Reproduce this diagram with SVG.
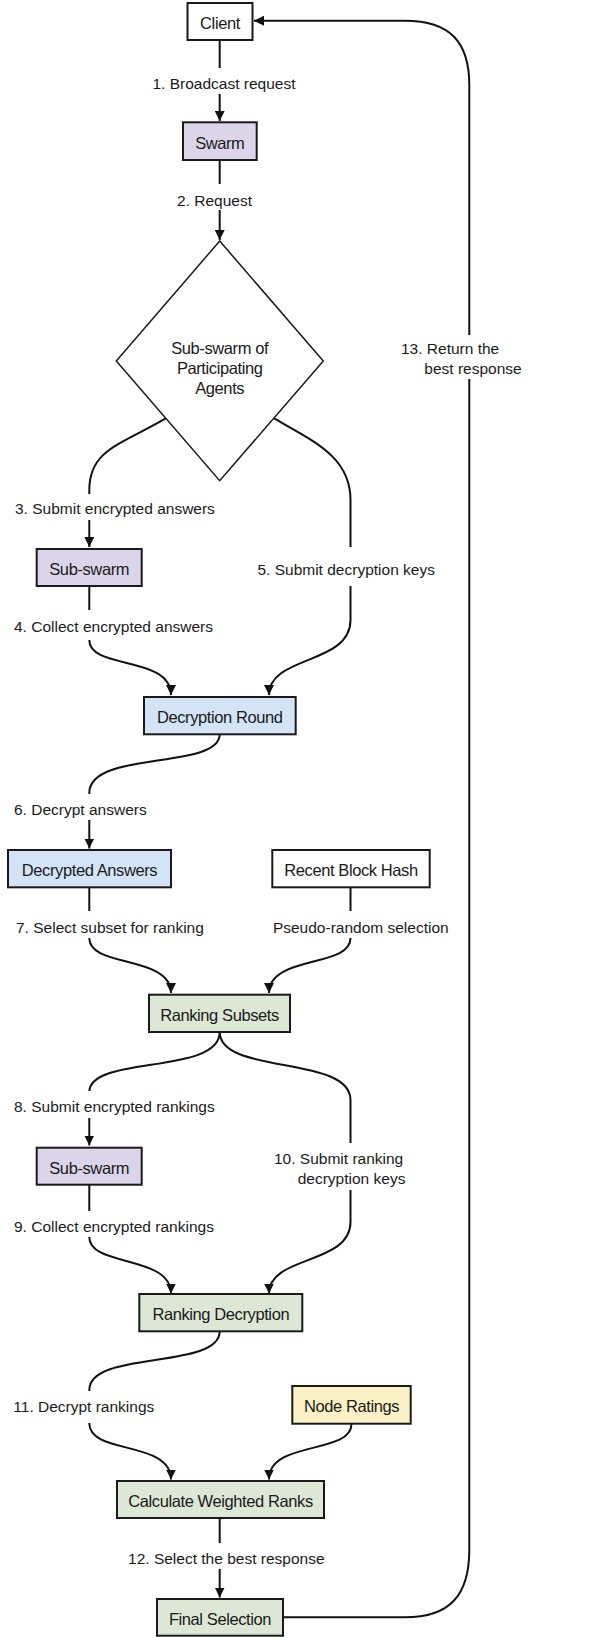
<svg xmlns="http://www.w3.org/2000/svg" width="605" height="1637" viewBox="0 0 605 1637">
<style>
text{font-family:"Liberation Sans",Arial,sans-serif;font-size:15.5px;fill:#1a1a1a}
.c{text-anchor:middle}
.n text{font-size:16.5px;letter-spacing:-0.4px}
.box{stroke:#1a1a1a;stroke-width:2}
.white{fill:#ffffff}
.lav{fill:#dcd5ea}
.blue{fill:#d4e4f6}
.green{fill:#dce8d5}
.yellow{fill:#fbf1c7}
.edge{fill:none;stroke:#111;stroke-width:2}
.bg{fill:#ffffff}
</style>
<defs>
<marker id="ah" viewBox="0 0 10 10" refX="10" refY="5" markerWidth="10" markerHeight="10" markerUnits="userSpaceOnUse" orient="auto"><path d="M0,0 L10,5 L0,10 z" fill="#111"/></marker>
</defs>
<rect width="605" height="1637" fill="#ffffff"/>
<g id="connectors">
<path class="edge" d="M219.7 40 L219.7 121" marker-end="url(#ah)"/>
<path class="edge" d="M219.7 160 L219.7 240" marker-end="url(#ah)"/>
<path class="edge" d="M165.7 418.3 C120 445 89.3 450 89.3 490 L89.3 547" marker-end="url(#ah)"/>
<path class="edge" d="M274.3 418.3 C310 440 350.5 455 350.5 500 L350.5 620 C350.5 665 269 655 269 695" marker-end="url(#ah)"/>
<path class="edge" d="M89.3 586 L89.3 640 C89.3 670 171 655 171 695" marker-end="url(#ah)"/>
<path class="edge" d="M219.7 734.3 C219.7 770 89.3 750 89.3 793 L89.3 848.5" marker-end="url(#ah)"/>
<path class="edge" d="M89.3 887.3 L89.3 938.3 C89.3 968 171 955 171 993" marker-end="url(#ah)"/>
<path class="edge" d="M350.5 887.3 L350.5 938.3 C350.5 968 269 955 269 993" marker-end="url(#ah)"/>
<path class="edge" d="M219.7 1032 C219.7 1075 89.3 1055 89.3 1092 L89.3 1145.5" marker-end="url(#ah)"/>
<path class="edge" d="M219.7 1032 C219.7 1075 350.5 1055 350.5 1100 L350.5 1222 C350.5 1265 269 1255 269 1293.5" marker-end="url(#ah)"/>
<path class="edge" d="M89.3 1184.7 L89.3 1237.3 C89.3 1267 171 1255 171 1293.5" marker-end="url(#ah)"/>
<path class="edge" d="M219.7 1331.3 C219.7 1370 89.3 1350 89.3 1390 L89.3 1423.3 C89.3 1455 171 1440 171 1479.5" marker-end="url(#ah)"/>
<path class="edge" d="M351.5 1423.7 C351.5 1455 269 1440 269 1479.5" marker-end="url(#ah)"/>
<path class="edge" d="M219.7 1518 L219.7 1597.5" marker-end="url(#ah)"/>
<path class="edge" d="M283 1617.3 L405 1617.3 C450 1617.3 469.3 1595 469.3 1550 L469.3 85 C469.3 42 450 20.7 405 20.7 L254 20.7" marker-end="url(#ah)"/>
</g>
<g id="edge-labels">
<rect class="bg" x="150" y="68" width="150" height="26"/>
<text class="c" x="224" y="89">1. Broadcast request</text>
<rect class="bg" x="174" y="184" width="82" height="26"/>
<text class="c" x="214.5" y="205.5">2. Request</text>
<rect class="bg" x="12" y="494" width="210" height="26"/>
<text x="15" y="514">3. Submit encrypted answers</text>
<rect class="bg" x="252" y="547" width="188" height="39"/>
<text class="c" x="346.2" y="574.5">5. Submit decryption keys</text>
<rect class="bg" x="12" y="610" width="210" height="30"/>
<text x="14" y="632">4. Collect encrypted answers</text>
<rect class="bg" x="12" y="794" width="142" height="26"/>
<text x="14" y="814.5">6. Decrypt answers</text>
<rect class="bg" x="12" y="911" width="196" height="27"/>
<text x="16" y="933">7. Select subset for ranking</text>
<rect class="bg" x="268" y="911" width="186" height="27"/>
<text class="c" x="360.8" y="933">Pseudo-random selection</text>
<rect class="bg" x="12" y="1091" width="212" height="27"/>
<text x="14" y="1112">8. Submit encrypted rankings</text>
<rect class="bg" x="270" y="1143" width="142" height="47"/>
<text x="274" y="1164">10. Submit ranking</text>
<text x="297.7" y="1184">decryption keys</text>
<rect class="bg" x="12" y="1211" width="212" height="26"/>
<text x="14" y="1232">9. Collect encrypted rankings</text>
<rect class="bg" x="11" y="1391" width="144" height="32"/>
<text x="13.3" y="1412">11. Decrypt rankings</text>
<rect class="bg" x="126" y="1543" width="202" height="26"/>
<text class="c" x="226.3" y="1564">12. Select the best response</text>
<rect class="bg" x="398" y="335" width="130" height="44"/>
<text x="401" y="353.5">13. Return the</text>
<text x="424.3" y="373.5">best response</text>
</g>
<g id="client" class="n"><rect class="box white" x="187.5" y="3" width="65" height="37"/><text class="c" x="220" y="28.8">Client</text></g>
<g id="swarm" class="n"><rect class="box lav" x="183" y="122.3" width="73.7" height="37.7"/><text class="c" x="219.8" y="148.7">Swarm</text></g>
<g id="subswarm-agents" class="n"><polygon points="219.7,241 323.3,361 219.7,480.7 116.3,361" fill="#ffffff" stroke="#1a1a1a" stroke-width="1.5"/><text class="c" x="219.7" y="353.5">Sub-swarm of</text><text class="c" x="219.7" y="373.5">Participating</text><text class="c" x="219.7" y="393.5">Agents</text></g>
<g id="subswarm1" class="n"><rect class="box lav" x="36.7" y="549" width="105" height="37"/><text class="c" x="89.2" y="575">Sub-swarm</text></g>
<g id="decryption-round" class="n"><rect class="box blue" x="144" y="697" width="151.7" height="37.3"/><text class="c" x="219.8" y="723">Decryption Round</text></g>
<g id="decrypted-answers" class="n"><rect class="box blue" x="8" y="850" width="163" height="37.3"/><text class="c" x="89.5" y="876">Decrypted Answers</text></g>
<g id="recent-block-hash" class="n"><rect class="box white" x="272.3" y="850" width="157.4" height="37.3"/><text class="c" x="351" y="876">Recent Block Hash</text></g>
<g id="ranking-subsets" class="n"><rect class="box green" x="149" y="994.7" width="141" height="37.3"/><text class="c" x="219.5" y="1020.5">Ranking Subsets</text></g>
<g id="subswarm2" class="n"><rect class="box lav" x="36.7" y="1147.7" width="105" height="37"/><text class="c" x="89.2" y="1173.5">Sub-swarm</text></g>
<g id="ranking-decryption" class="n"><rect class="box green" x="139.3" y="1294" width="163" height="37.3"/><text class="c" x="220.8" y="1320">Ranking Decryption</text></g>
<g id="node-ratings" class="n"><rect class="box yellow" x="292.3" y="1386" width="118.4" height="37.7"/><text class="c" x="351.5" y="1412">Node Ratings</text></g>
<g id="weighted-ranks" class="n"><rect class="box green" x="117" y="1481" width="207" height="37"/><text class="c" x="220.5" y="1507">Calculate Weighted Ranks</text></g>
<g id="final-selection" class="n"><rect class="box green" x="157" y="1599" width="126" height="36.7"/><text class="c" x="220" y="1625">Final Selection</text></g>
</svg>
